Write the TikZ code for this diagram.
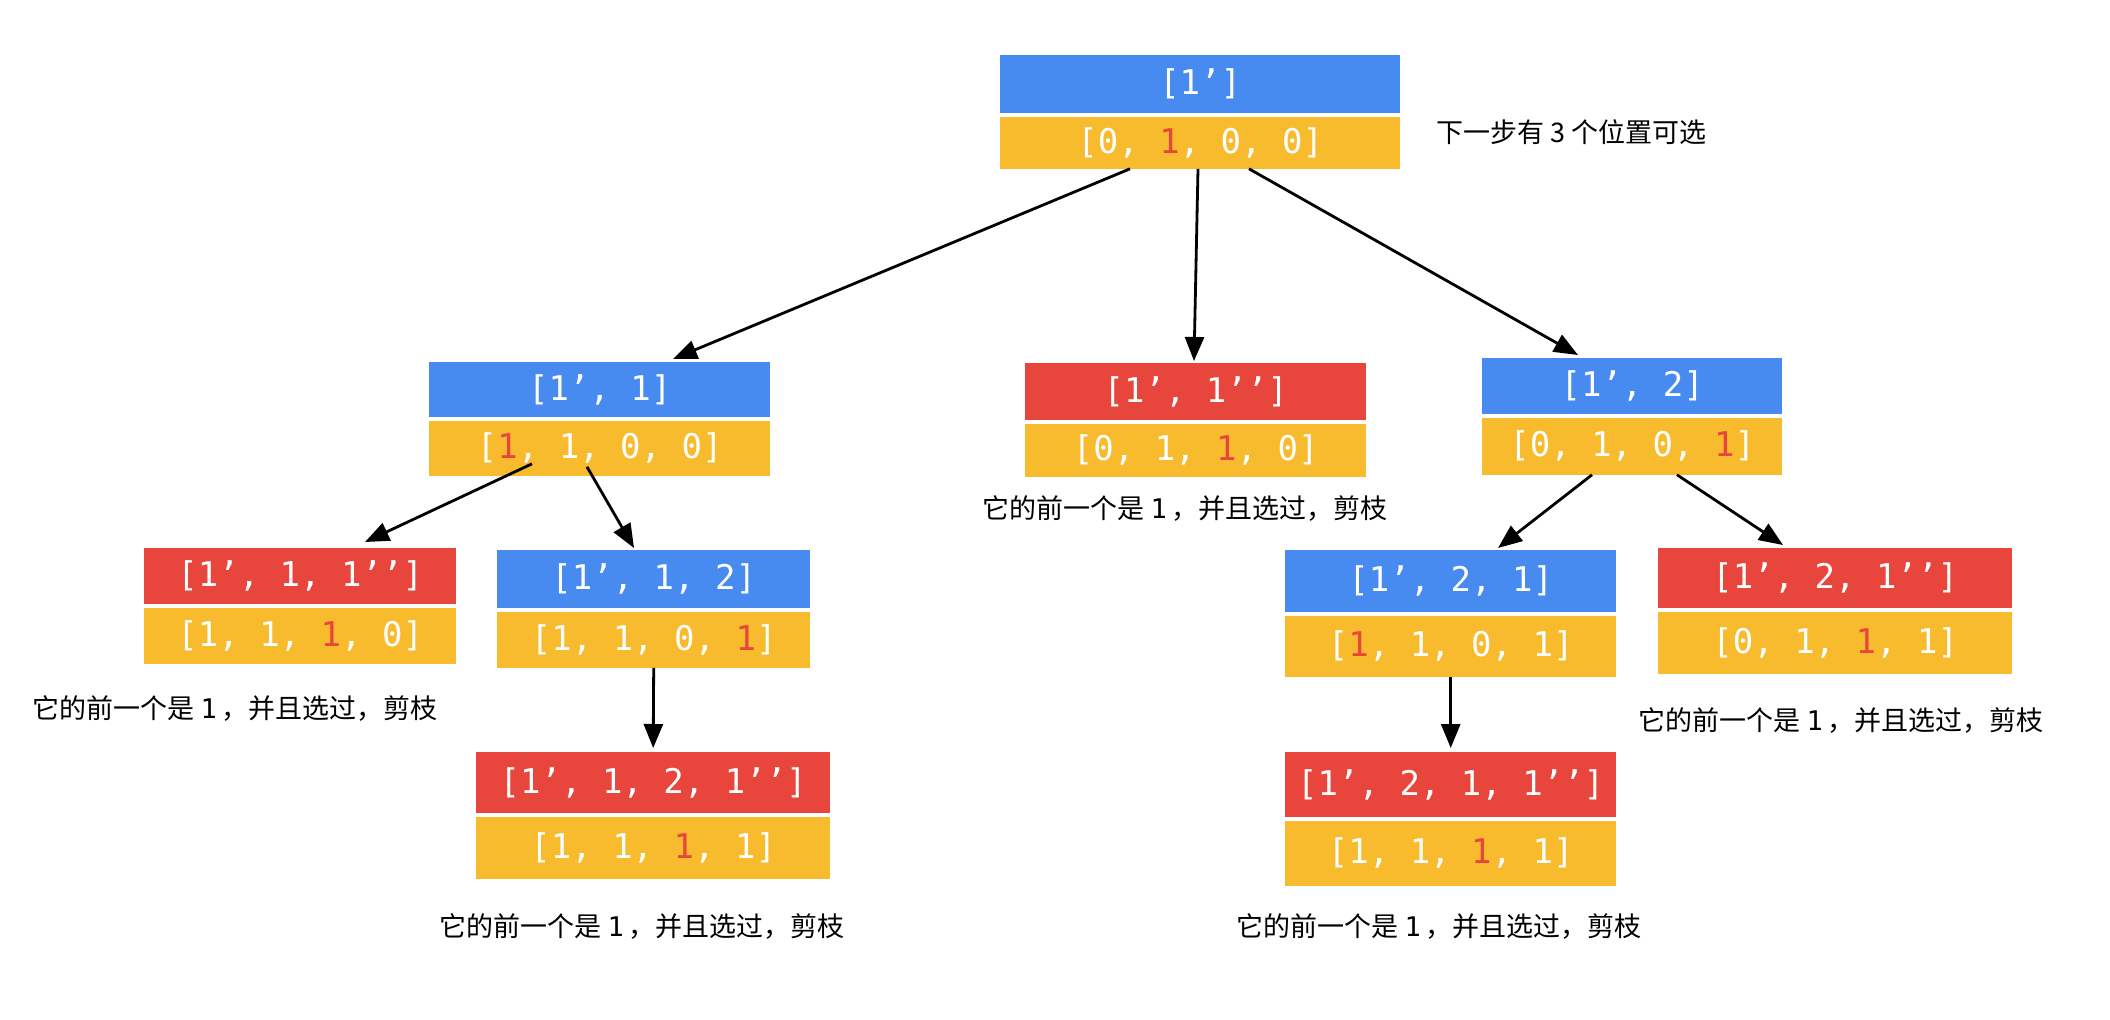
\documentclass[tikz,border=0pt]{standalone}
\usepackage{fontspec}
\newfontfamily\codefont{DejaVu Sans Mono}
\newfontfamily\cjk{Noto Sans CJK SC}
\usetikzlibrary{positioning,arrows.meta}

\definecolor{hblue}{RGB}{72,139,240}
\definecolor{hred}{RGB}{232,69,60}
\definecolor{hyellow}{RGB}{249,187,46}

\tikzset{
  head/.style={anchor=north west, inner sep=0pt, text=white,
    font=\codefont\fontsize{34}{36}\selectfont},
  body/.style={below=3pt of #1, inner sep=0pt, fill=hyellow, text=white,
    font=\codefont\fontsize{34}{36}\selectfont},
  note/.style={font=\cjk\fontsize{27}{30}\selectfont, text=black},
  edge/.style={line width=2.8pt, -{Triangle[length=24pt,width=19pt]}}
}
\newcommand{\hl}[1]{\textcolor{hred}{#1}}
\newcommand{\prunetext}{它的前一个是 {\codefont 1}\,，并且选过，剪枝}

\begin{document}
\begin{tikzpicture}[x=1pt, y=-1pt]
  \useasboundingbox[fill=white] (0,0) rectangle (2110,1020);

  % root
  \node[head, fill=hblue, minimum width=400pt, minimum height=58pt] (root-h) at (1000,55) {[1’]};
  \node[body=root-h, minimum width=400pt, minimum height=52pt] (root-b) {[0, \hl{1}, 0, 0]};
  \node[note, anchor=west] (root-n) at (1433,132) {下一步有 3 个位置可选};

  % level 1
  \node[head, fill=hblue, minimum width=341pt, minimum height=55pt] (n1-h) at (429,362) {[1’, 1]};
  \node[body=n1-h, minimum width=341pt, minimum height=55pt] (n1-b) {[\hl{1}, 1, 0, 0]};

  \node[head, fill=hred, minimum width=341pt, minimum height=57pt] (n2-h) at (1025,363) {[1’, 1’’]};
  \node[body=n2-h, minimum width=341pt, minimum height=53pt] (n2-b) {[0, 1, \hl{1}, 0]};
  \node[note] (n2-n) at (1185,509) {\prunetext};

  \node[head, fill=hblue, minimum width=300pt, minimum height=56pt] (n3-h) at (1482,358) {[1’, 2]};
  \node[body=n3-h, minimum width=300pt, minimum height=57pt] (n3-b) {[0, 1, 0, \hl{1}]};

  % level 2
  \node[head, fill=hred, minimum width=312pt, minimum height=56pt] (n11-h) at (144,548) {[1’, 1, 1’’]};
  \node[body=n11-h, minimum width=312pt, minimum height=56pt] (n11-b) {[1, 1, \hl{1}, 0]};
  \node[note] (n11-n) at (235,709) {\prunetext};

  \node[head, fill=hblue, minimum width=313pt, minimum height=58pt] (n12-h) at (497,550) {[1’, 1, 2]};
  \node[body=n12-h, minimum width=313pt, minimum height=56pt] (n12-b) {[1, 1, 0, \hl{1}]};

  \node[head, fill=hblue, minimum width=331pt, minimum height=62pt] (n31-h) at (1285,550) {[1’, 2, 1]};
  \node[body=n31-h, minimum width=331pt, minimum height=61pt] (n31-b) {[\hl{1}, 1, 0, 1]};

  \node[head, fill=hred, minimum width=354pt, minimum height=60pt] (n32-h) at (1658,548) {[1’, 2, 1’’]};
  \node[body=n32-h, minimum width=354pt, minimum height=62pt] (n32-b) {[0, 1, \hl{1}, 1]};
  \node[note] (n32-n) at (1841,721) {\prunetext};

  % level 3
  \node[head, fill=hred, minimum width=354pt, minimum height=61pt] (n121-h) at (476,752) {[1’, 1, 2, 1’’]};
  \node[body=n121-h, minimum width=354pt, minimum height=62pt] (n121-b) {[1, 1, \hl{1}, 1]};
  \node[note] (n121-n) at (642,926) {\prunetext};

  \node[head, fill=hred, minimum width=331pt, minimum height=65pt] (n311-h) at (1285,752) {[1’, 2, 1, 1’’]};
  \node[body=n311-h, minimum width=331pt, minimum height=65pt] (n311-b) {[1, 1, \hl{1}, 1]};
  \node[note] (n311-n) at (1439,926) {\prunetext};

  % edges
  \draw[edge] ([xshift=130pt]root-b.south west) -- ([xshift=244pt,yshift=3pt]n1-h.north west);
  \draw[edge] ([xshift=198pt]root-b.south west) -- ([xshift=169pt,yshift=2pt]n2-h.north west);
  \draw[edge] ([xshift=249pt]root-b.south west) -- ([xshift=96pt,yshift=3pt]n3-h.north west);

  \draw[edge] ([xshift=103pt,yshift=12pt]n1-b.south west) -- ([xshift=221pt,yshift=6pt]n11-h.north west);
  \draw[edge] ([xshift=158pt,yshift=9pt]n1-b.south west) -- ([xshift=137pt,yshift=2pt]n12-h.north west);
  \draw[edge] (n12-b.south) -- ([yshift=4pt]n121-h.north);

  \draw[edge] ([xshift=110pt]n3-b.south west) -- ([xshift=213pt,yshift=2pt]n31-h.north west);
  \draw[edge] ([xshift=195pt]n3-b.south west) -- ([xshift=125pt,yshift=3pt]n32-h.north west);
  \draw[edge] (n31-b.south) -- ([yshift=4pt]n311-h.north);
\end{tikzpicture}
\end{document}
